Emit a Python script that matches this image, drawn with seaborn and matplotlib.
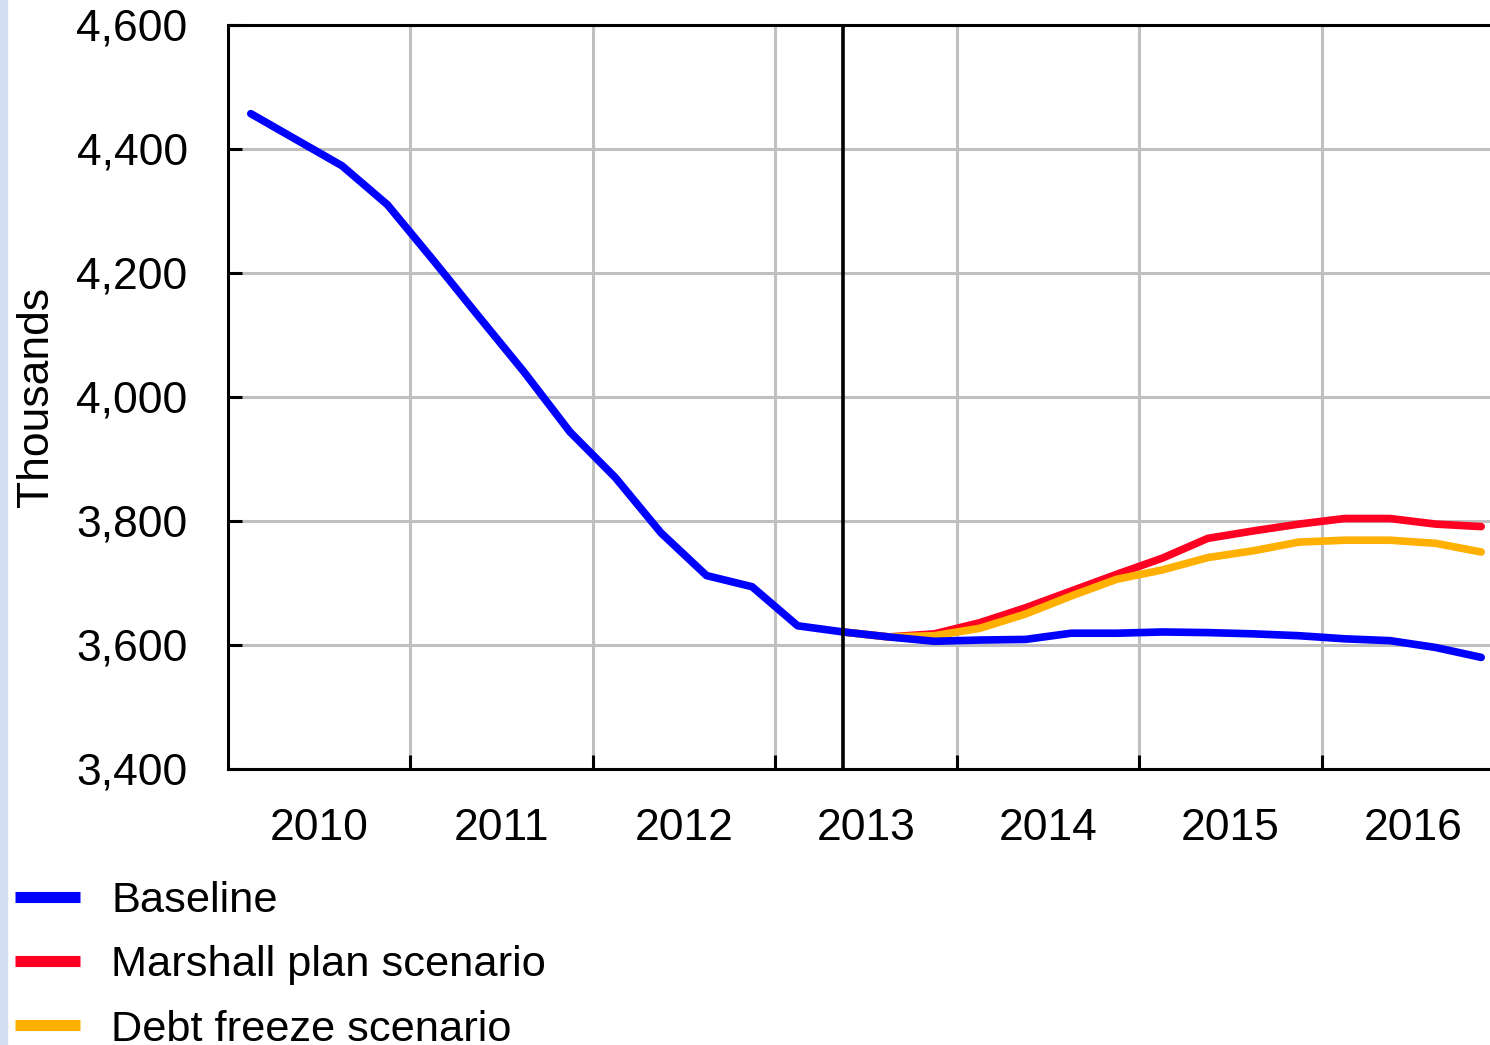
import numpy as np
import pandas as pd
import seaborn as sns
import matplotlib.pyplot as plt
from matplotlib.patches import Rectangle

# quarterly points, mid-quarter, 2010Q1 .. 2016Q4
quarters = 2010.125 + 0.25 * np.arange(28)

baseline = [4457, 4415, 4373, 4310, 4221, 4130, 4040, 3944, 3870, 3781,
            3712, 3694, 3631, 3621, 3613, 3606, 3608, 3609, 3619, 3619,
            3621, 3620, 3618, 3615, 3610, 3607, 3596, 3580]
# scenarios split from the baseline in 2013Q2
marshall = [3621, 3613, 3618, 3636, 3660, 3687, 3714, 3740, 3772, 3784,
            3795, 3804, 3804, 3795, 3791]
debt_freeze = [3621, 3613, 3615, 3627, 3650, 3679, 3706, 3721, 3741, 3752,
               3766, 3769, 3769, 3764, 3750]

series_names = ["Baseline", "Marshall plan scenario", "Debt freeze scenario"]
series_colors = ["#0000ff", "#ff0022", "#ffb000"]
year_labels = ["2010", "2011", "2012", "2013", "2014", "2015", "2016"]
split_date = 2013.375

df = pd.concat([
    pd.DataFrame({"t": quarters, "v": baseline, "s": series_names[0]}),
    pd.DataFrame({"t": quarters[13:], "v": marshall, "s": series_names[1]}),
    pd.DataFrame({"t": quarters[13:], "v": debt_freeze, "s": series_names[2]}),
])

sns.set_style("white")
plt.rcParams['font.family'] = ['Liberation Sans', 'DejaVu Sans']
plt.rcParams.update({"text.color": "black", "axes.labelcolor": "black",
                     "xtick.color": "black", "ytick.color": "black"})

fig = plt.figure(figsize=(14.9, 10.45), dpi=100)
ax = fig.add_axes([228 / 1490, 1 - 769 / 1045, 1276 / 1490, 744 / 1045])

# light blue strip on the left edge of the picture
fig.patches.append(Rectangle((0, 0), 7 / 1490, 1, transform=fig.transFigure,
                             color="#d3ddf1", zorder=0))

for i, name in enumerate(series_names):
    sns.lineplot(data=df[df.s == name], x="t", y="v", ax=ax,
                 color=series_colors[i], lw=5.5, label=name,
                 zorder=[4, 2, 3][i], solid_capstyle="round")

ax.axvline(split_date, color="black", lw=2.6, zorder=5)

ax.set_xlim(2010, 2017)
ax.set_ylim(3400, 4600)
ax.set_yticks(np.arange(3400, 4601, 200))
ax.set_yticklabels([f"{v:,}" for v in range(3400, 4601, 200)])
ax.set_xticks(np.arange(2011, 2017))
ax.set_xticklabels([])
ax.set_xticks(np.arange(2010.5, 2017, 1), minor=True)
ax.set_xticklabels(year_labels, minor=True)

ax.grid(True, which="major", color="#c0c0c0", lw=2.2, zorder=0)
ax.set_axisbelow(True)
ax.tick_params(axis="both", which="major", direction="in", length=10,
               width=2.2, color="black", labelsize=32)
ax.tick_params(axis="y", pad=29, left=True)
ax.tick_params(axis="x", which="major", bottom=True, pad=28)
ax.tick_params(axis="x", which="minor", length=0, labelsize=32, pad=28)

for sp in ax.spines.values():
    sp.set_color("black")
    sp.set_linewidth(2.2)

ax.set_xlabel("")
ax.set_ylabel("Thousands", fontsize=32)
ax.yaxis.set_label_coords(-0.134, 0.5)

ax.get_legend().remove()
handles, labels = ax.get_legend_handles_labels()
leg = fig.legend(handles, labels, loc="upper left",
                 bbox_to_anchor=(15 / 1490, 1 - 881 / 1045),
                 frameon=False, fontsize=31.2, handlelength=1.5,
                 handletextpad=0.72, labelspacing=0.56,
                 borderpad=0, borderaxespad=0)
for line in leg.get_lines():
    line.set_linewidth(8)
    line.set_solid_capstyle("butt")

fig.savefig("out.png", dpi=100)
